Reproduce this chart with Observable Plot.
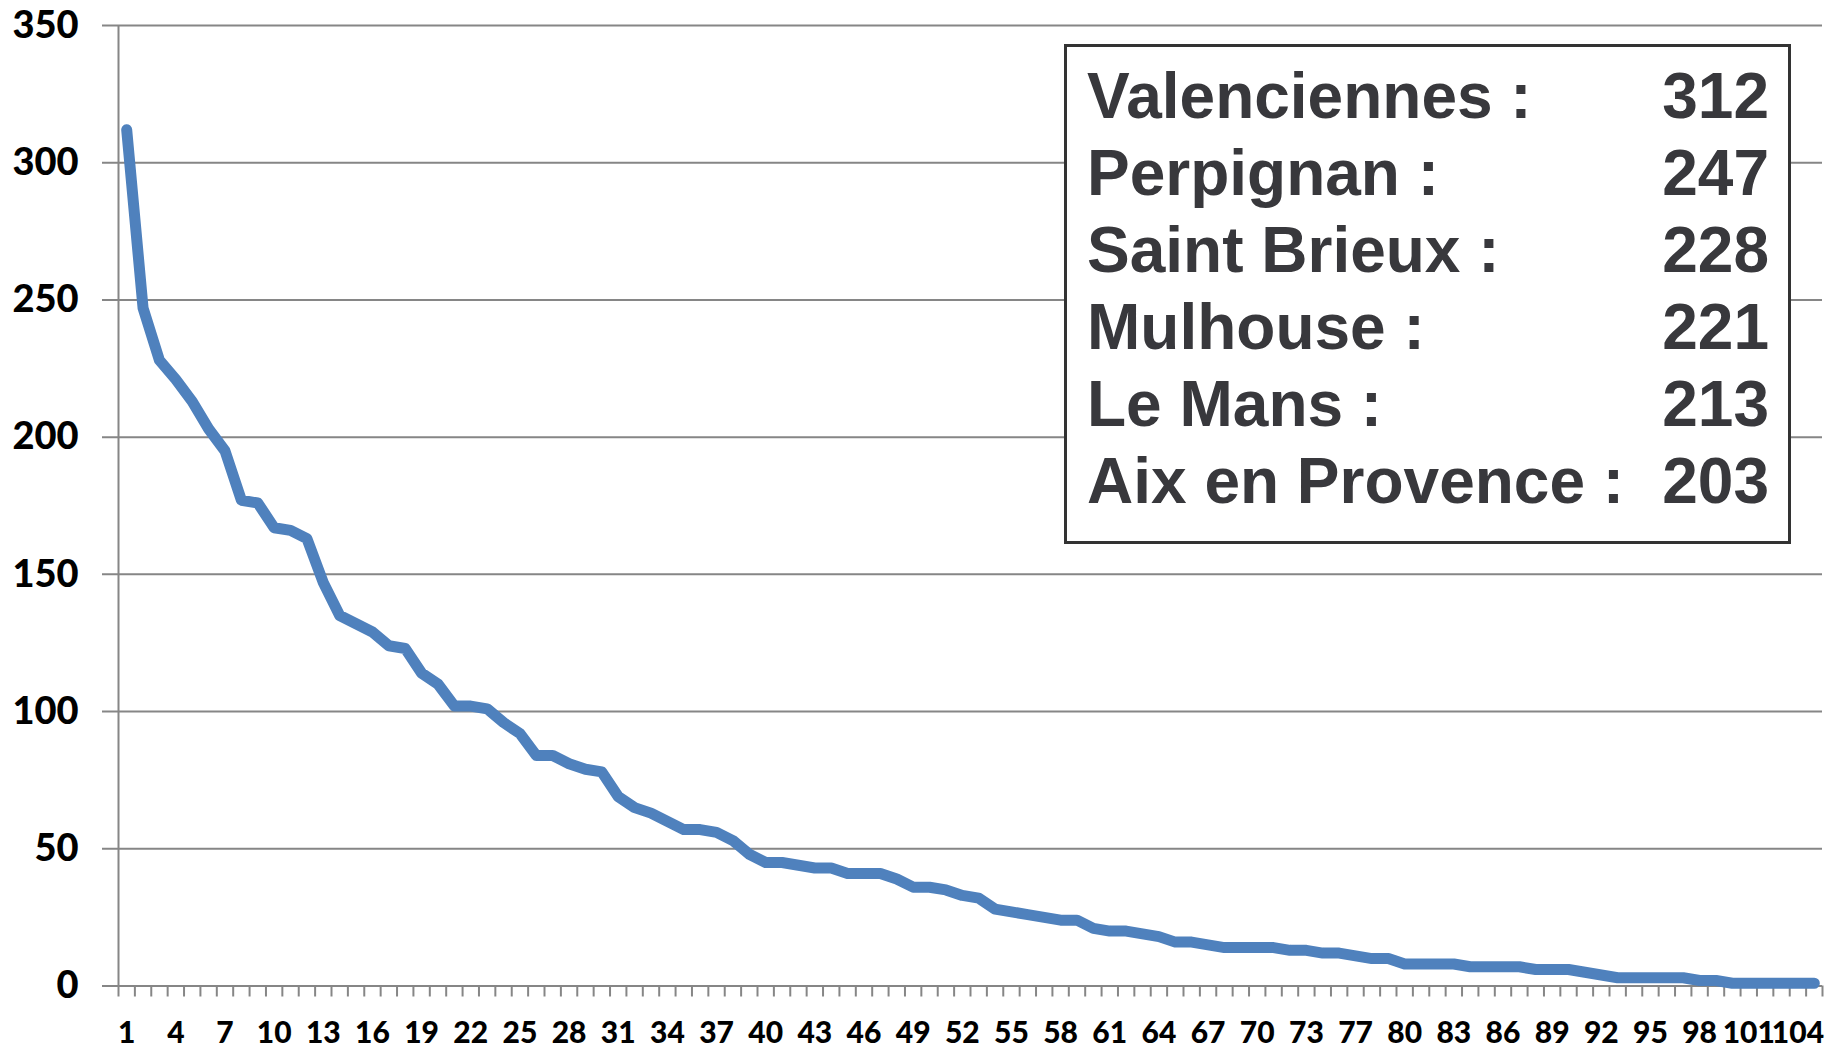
<!DOCTYPE html>
<html>
<head>
<meta charset="utf-8">
<script src="https://cdn.jsdelivr.net/npm/d3@7"></script>
<script src="https://cdn.jsdelivr.net/npm/@observablehq/plot@0.6"></script>
<style>
  html, body { margin: 0; padding: 0; background: #fff; }
  #wrap { position: relative; width: 1829px; height: 1051px; overflow: hidden; }
  #legend {
    position: absolute; left: 1064px; top: 44px; width: 727px; height: 500px;
    box-sizing: border-box; border: 3.5px solid #333; background: #fff;
    padding: 11px 19px 0 20px;
    font-family: "Liberation Sans", Arial, sans-serif; font-weight: bold;
    font-size: 64px; line-height: 77px; color: #38383c;
  }
  #legend .row { display: flex; justify-content: space-between; white-space: pre; }
</style>
</head>
<body>
<div id="wrap"><div id="legend"></div></div>
<script>
// ---- data ----
const categories = [1,2,3,4,5,6,7,8,9,10,11,12,13,14,15,16,17,18,19,20,21,22,23,24,25,26,27,28,29,30,
  31,32,33,34,35,36,37,38,39,40,41,42,43,44,45,46,47,48,49,50,51,52,53,54,55,56,57,58,59,60,
  61,62,63,64,65,66,67,68,69,70,71,72,73,74,75,77,78,79,80,81,82,83,84,85,86,87,88,89,90,
  91,92,93,94,95,96,97,98,99,100,101,102,103,104,105];
const values = [312,247,228,221,213,203,195,177,176,167,166,163,147,135,132,129,124,123,114,110,
  102,102,101,96,92,84,84,81,79,78,69,65,63,60,57,57,56,53,48,45,
  45,44,43,43,41,41,41,39,36,36,35,33,32,28,27,26,25,24,24,21,
  20,20,19,18,16,16,15,14,14,14,14,13,13,12,12,11,10,10,8,8,
  8,8,7,7,7,7,6,6,6,5,4,3,3,3,3,3,2,2,1,1,
  1,1,1,1];
const yTicks = [0,50,100,150,200,250,300,350];
const legendCities = ["Valenciennes :", "Perpignan :", "Saint Brieux :", "Mulhouse :", "Le Mans :", "Aix en Provence :"];
const legendValues = [312, 247, 228, 221, 213, 203];

// ---- legend box ----
const legend = document.getElementById("legend");
legendCities.forEach((c, i) => {
  const row = document.createElement("div");
  row.className = "row";
  const a = document.createElement("span"); a.textContent = c;
  const b = document.createElement("span"); b.textContent = legendValues[i];
  row.append(a, b);
  legend.append(row);
});

// ---- chart ----
const n = categories.length;
const boundaries = d3.range(0, n + 1);
const labelPos = categories.map((c, i) => i).filter(i => i % 3 === 0).map(i => i + 0.5);
const grid = "#868686";

const chart = Plot.plot({
  width: 1829,
  height: 1051,
  marginLeft: 118,
  marginRight: 7,
  marginTop: 25,
  marginBottom: 65.5,
  style: { fontFamily: "Lato, 'Open Sans', sans-serif", fontWeight: "bold", color: "#000", background: "#fff" },
  x: { type: "linear", domain: [0, n] },
  y: { domain: [0, 350] },
  marks: [
    Plot.ruleY(yTicks, { stroke: grid, strokeWidth: 2, insetLeft: -16 }),
    Plot.ruleX([0], { stroke: grid, strokeWidth: 2 }),
    Plot.axisX(boundaries, { tickSize: 11, tickFormat: () => "", stroke: grid, strokeWidth: 2 }),
    Plot.axisX(labelPos, {
      tickSize: 0, tickPadding: 36, fontSize: 30, fontWeight: 900, fill: "#000",
      tickFormat: p => String(categories[Math.round(p - 0.5)])
    }),
    Plot.axisY(yTicks, { tickSize: 0, tickPadding: 40, fontSize: 38, fontWeight: 900, fill: "#000" }),
    Plot.line(values, {
      x: (d, i) => i + 0.5, y: d => d,
      stroke: "#4F81BD", strokeWidth: 11, strokeLinejoin: "round", strokeLinecap: "round"
    })
  ]
});
document.getElementById("wrap").prepend(chart);
</script>
</body>
</html>
